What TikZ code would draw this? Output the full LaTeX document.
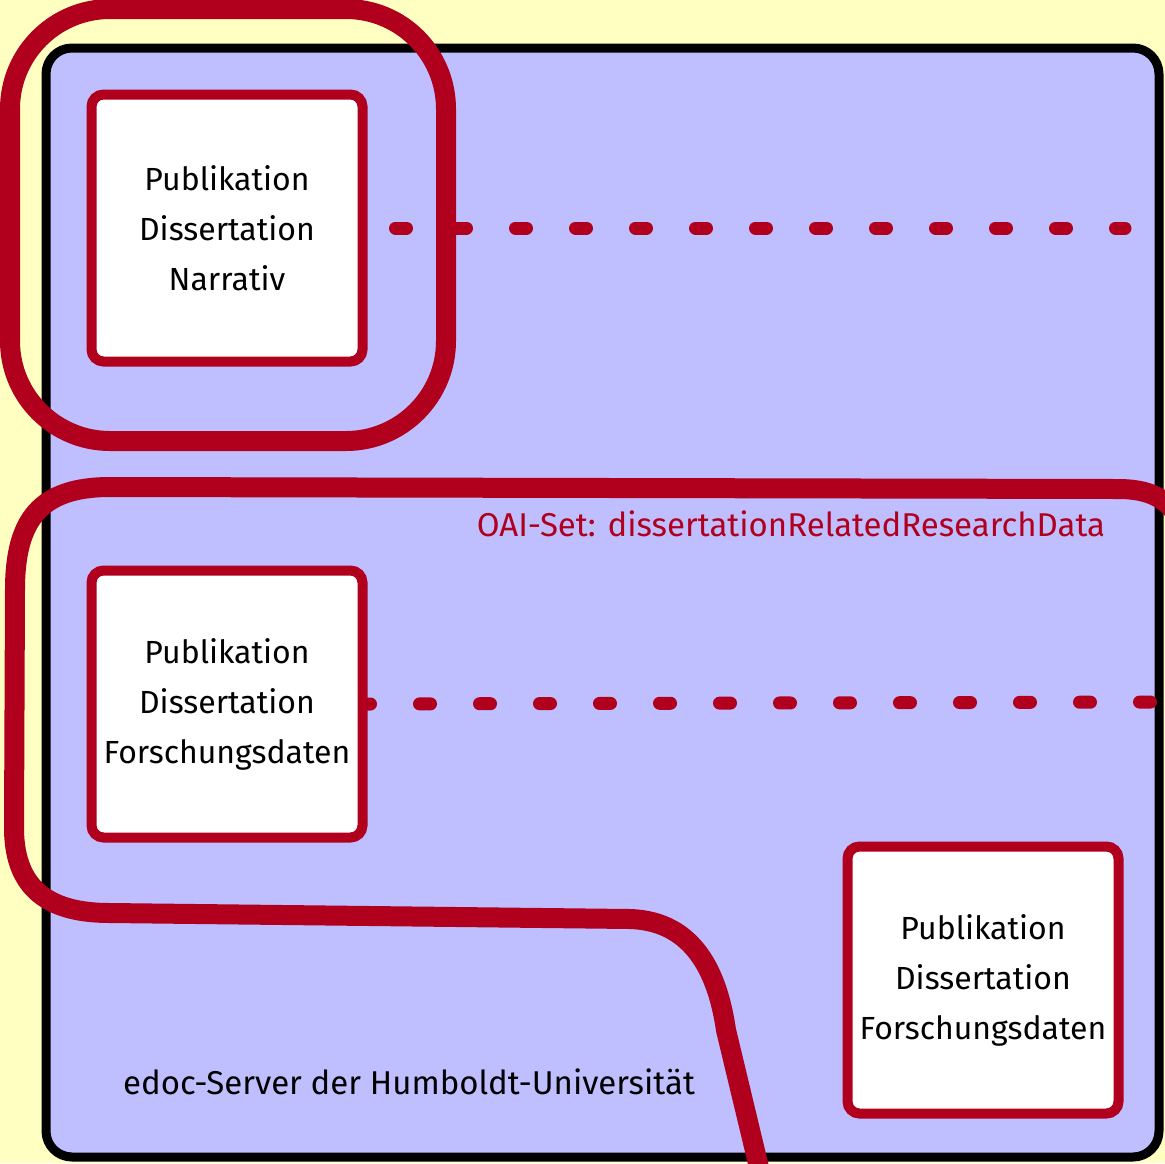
\documentclass[tikz,border=0pt]{standalone}
\usepackage{fontspec}
\setmainfont{Fira Sans}
\usetikzlibrary{positioning}

\definecolor{hured}{RGB}{176,0,30}
\definecolor{serverblue}{RGB}{191,191,255}
\definecolor{paper}{RGB}{255,255,194}

\tikzset{
  pubbox/.style={draw=hured, line width=10pt, fill=white, rounded corners=12pt,
    minimum width=271pt, minimum height=267pt, inner sep=0pt, align=center,
    font=\fontsize{32}{50}\selectfont},
  setring/.style={draw=hured, line width=20pt, line cap=round, line join=round},
  dotline/.style={draw=hured, line width=13pt, line cap=round, dash pattern=on 11pt off 49pt},
}

\begin{document}
\begin{tikzpicture}[x=1pt,y=-1pt,node distance=2cm,on grid]
      \useasboundingbox (0,0) rectangle (1165,1163);
      \fill[paper] (0,0) rectangle (1165,1163);
      \draw[line width=9pt, fill=serverblue, rounded corners=26pt] (46,48) rectangle (1159,1157);

      \node[pubbox] (narrativ) at (227,228) {Publikation\\Dissertation\\Narrativ};
      \node[pubbox] (daten) [below=476pt of narrativ] {Publikation\\Dissertation\\Forschungsdaten};
      \node[pubbox] (extern) [below right=276pt and 756pt of daten] {Publikation\\Dissertation\\Forschungsdaten};

      \coordinate (end1) at (1125,228);
      \coordinate (end2) at (1165,702);
      \draw[dotline, dash phase=32pt] (narrativ.east) -- (end1);
      \draw[dotline, dash phase=8pt] (daten.east) -- (end2);

      % OAI-Sets
      \draw[setring, rounded corners=100pt] (10,9) rectangle (446,441);
      \draw[setring] (1200,640) -- (1196,580) .. controls (1188,510) and (1165,489) .. (1118,489)
            -- (110,487) .. controls (40,487) and (15,520) .. (15,590) -- (14,830)
            .. controls (15,890) and (50,913) .. (110,913) -- (630,919)
            .. controls (695,921) and (718,975) .. (726,1030) -- (762,1180);

      \node[text=hured, font=\fontsize{33}{38}\selectfont] (oai) at (791,524) {OAI-Set: dissertationRelatedResearchData};
      \node[font=\fontsize{33}{38}\selectfont] (edoc) at (409,1082) {edoc-Server der Humboldt-Universität};
\end{tikzpicture}
\end{document}
